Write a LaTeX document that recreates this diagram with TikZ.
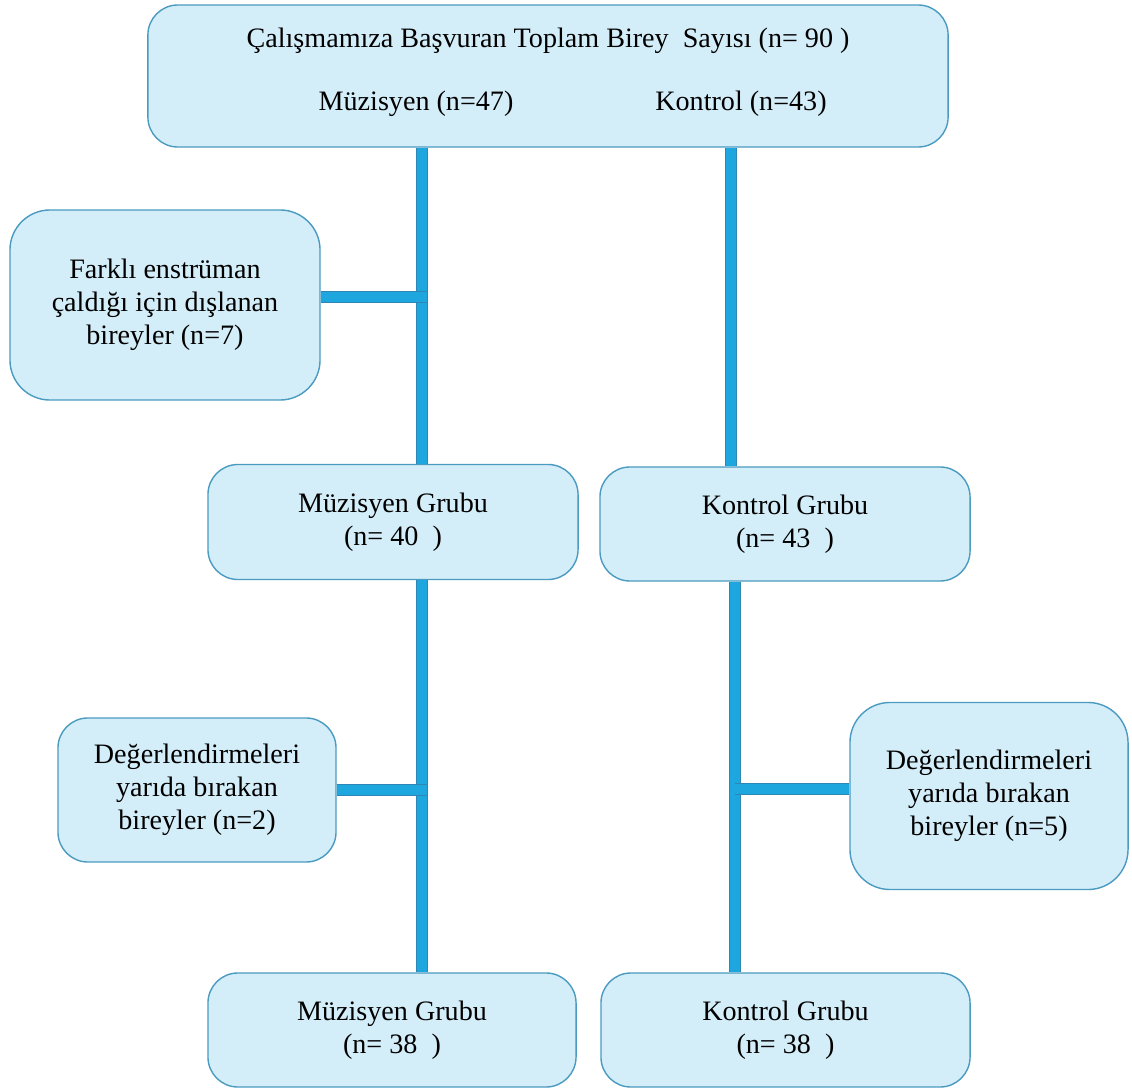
\documentclass[tikz,border=0pt]{standalone}
\usepackage{fontspec}
\setmainfont{Liberation Serif}
\definecolor{boxfill}{HTML}{D4EEF9}
\definecolor{boxline}{HTML}{4B9BC1}
\definecolor{barfill}{HTML}{1EA7DE}
\definecolor{barline}{HTML}{2E86B5}

\begin{document}
\begin{tikzpicture}[x=0.025cm,y=-0.025cm,
    box/.style={draw=boxline,fill=boxfill,line width=1pt,rounded corners=0.75cm,
        align=center,inner sep=0pt,font=\fontsize{20}{23.5}\selectfont},
    lbl/.style={inner sep=0pt,align=center,font=\fontsize{20}{23.5}\selectfont},
    bar/.style={draw=barline,line width=0.8pt,double=barfill,double distance=7pt}]
        \useasboundingbox (0,0) rectangle (1132,1089);
        % boxes
        \node[box,minimum width=20cm,minimum height=3.55cm] (top) at (548,76) {};
        \node[lbl] (title) at (548,41) {Çalışmamıza Başvuran Toplam Birey\ \ Sayısı (n= 90 )};
        \node[lbl] (mtop) at (416,104) {Müzisyen (n=47)};
        \node[lbl] (ktop) at (741,104) {Kontrol (n=43)};
        \node[box,minimum width=7.75cm,minimum height=4.75cm,rounded corners=1cm] (excl) at (165,305)
            {Farklı enstrüman\\çaldığı için dışlanan\\bireyler (n=7)};
        \node[box,minimum width=9.25cm,minimum height=2.875cm] (mus1) at (393,522)
            {Müzisyen Grubu\\(n= 40\ \ )};
        \node[box,minimum width=9.25cm,minimum height=2.85cm] (kon1) at (785,524)
            {Kontrol Grubu\\(n= 43\ \ )};
        \node[box,minimum width=6.95cm,minimum height=3.6cm] (dropm) at (197,790)
            {Değerlendirmeleri\\yarıda bırakan\\bireyler (n=2)};
        \node[box,minimum width=6.95cm,minimum height=4.675cm,rounded corners=1cm] (dropk) at (989,796)
            {Değerlendirmeleri\\yarıda bırakan\\bireyler (n=5)};
        \node[box,minimum width=9.2cm,minimum height=2.85cm] (mus2) at (392,1030)
            {Müzisyen Grubu\\(n= 38\ \ )};
        \node[box,minimum width=9.225cm,minimum height=2.85cm] (kon2) at (785.5,1030)
            {Kontrol Grubu\\(n= 38\ \ )};
        % bars
        \coordinate (lx) at (422,0);
        \coordinate (rx) at (731,0);
        \coordinate (rx2) at (735,0);
        \coordinate (b1) at (427,297);
        \coordinate (b3) at (735,789);
        \draw[bar] (top.south -| lx) -- (mus1.north -| lx);
        \draw[bar] (mus1.south -| lx) -- (mus2.north -| lx);
        \draw[bar] (top.south -| rx) -- (kon1.north -| rx);
        \draw[bar] (kon1.south -| rx2) -- (kon2.north -| rx2);
        \draw[bar] (b1 -| excl.east) -- (b1);
        \draw[bar] (dropm.east) -- (dropm.east -| b1);
        \draw[bar] (b3 -| dropk.west) -- (b3);
    \end{tikzpicture}
\end{document}
